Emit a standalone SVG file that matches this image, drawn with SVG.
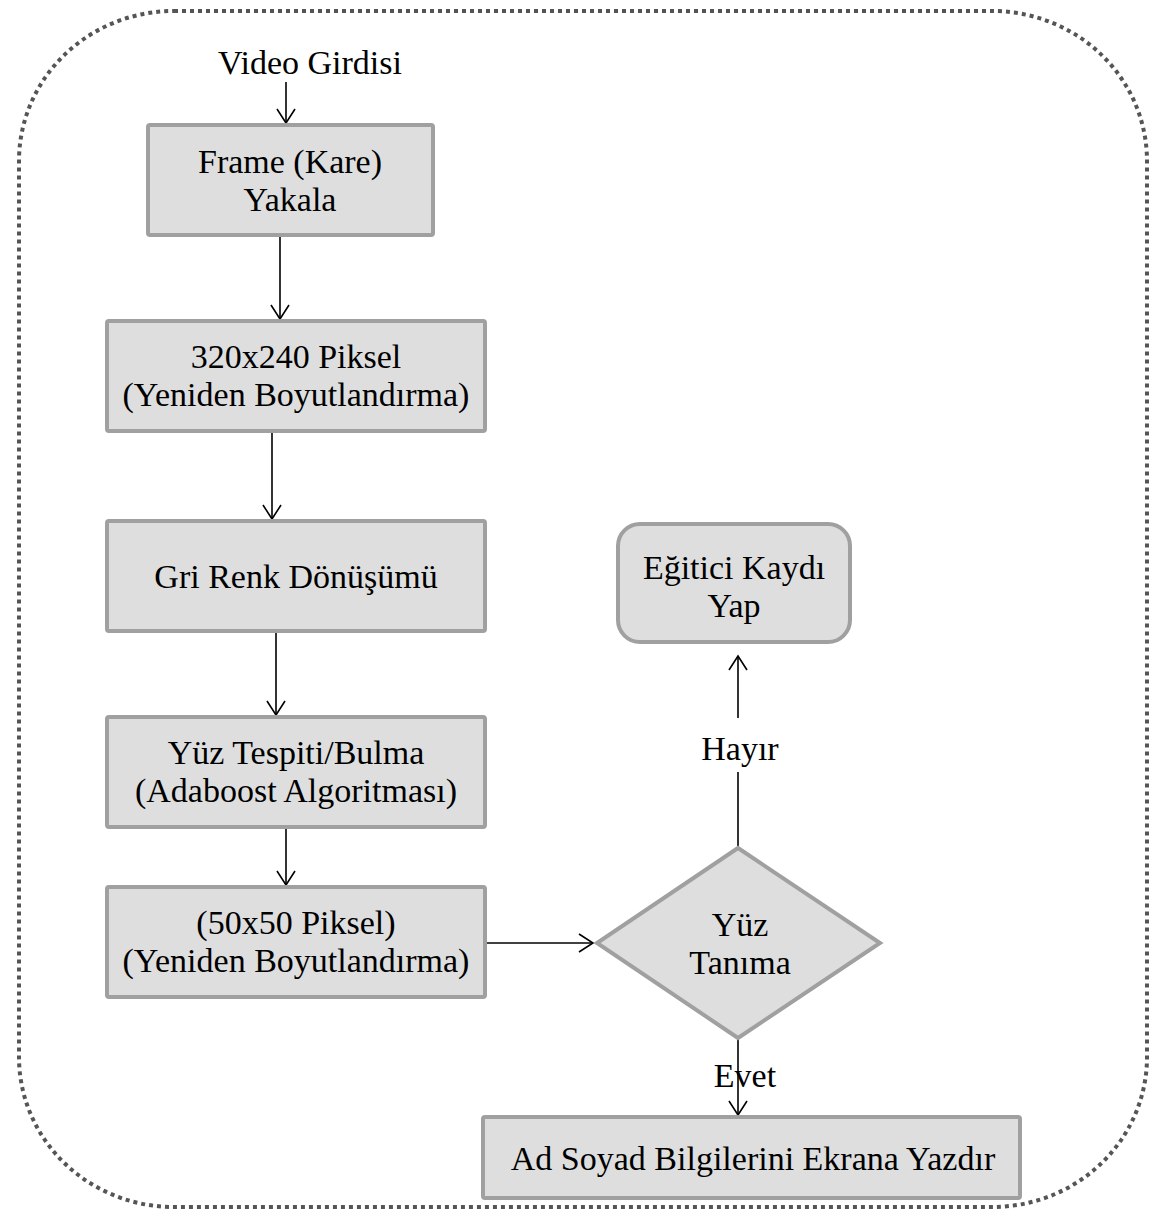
<svg xmlns="http://www.w3.org/2000/svg" width="1155" height="1218" viewBox="0 0 1155 1218">
<style>
.box{fill:#dedede;stroke:#a0a0a0;stroke-width:4}
.t{font-family:"Liberation Serif","Times New Roman",serif;font-size:34px;fill:#000;text-anchor:middle}
.c{stroke:#000;stroke-width:1.6;fill:none}
</style>
<defs>
<marker id="ah" markerWidth="20" markerHeight="20" refX="16" refY="10" orient="auto" markerUnits="userSpaceOnUse">
<path d="M2,1 L16,10 L2,19" fill="none" stroke="#000" stroke-width="1.6"/>
</marker>
</defs>
<rect x="19" y="11" width="1128" height="1196" rx="155" ry="150" fill="none" stroke="#555" stroke-width="4" stroke-dasharray="4 4"/>
<g id="connectors">
<line class="c" x1="286" y1="82" x2="286" y2="123" marker-end="url(#ah)"/>
<line class="c" x1="280" y1="235" x2="280" y2="319" marker-end="url(#ah)"/>
<line class="c" x1="272" y1="431" x2="272" y2="519" marker-end="url(#ah)"/>
<line class="c" x1="276" y1="631" x2="276" y2="715" marker-end="url(#ah)"/>
<line class="c" x1="286" y1="827" x2="286" y2="885" marker-end="url(#ah)"/>
<line class="c" x1="485" y1="943" x2="593" y2="943" marker-end="url(#ah)"/>
<line class="c" x1="738" y1="848" x2="738" y2="772"/>
<line class="c" x1="738" y1="718" x2="738" y2="656" marker-end="url(#ah)"/>
<line class="c" x1="738" y1="1038" x2="738" y2="1115" marker-end="url(#ah)"/>
</g>
<text class="t" x="310" y="74">Video Girdisi</text>
<text class="t" x="740" y="760">Hayır</text>
<text class="t" x="745" y="1087">Evet</text>
<g id="n1"><rect class="box" x="148" y="125" width="285" height="110" rx="2"/><text class="t" x="290" y="173">Frame (Kare)</text><text class="t" x="290" y="211">Yakala</text></g>
<g id="n2"><rect class="box" x="107" y="321" width="378" height="110" rx="2"/><text class="t" x="296" y="368">320x240 Piksel</text><text class="t" x="296" y="406">(Yeniden Boyutlandırma)</text></g>
<g id="n3"><rect class="box" x="107" y="521" width="378" height="110" rx="2"/><text class="t" x="296" y="588">Gri Renk Dönüşümü</text></g>
<g id="n4"><rect class="box" x="107" y="717" width="378" height="110" rx="2"/><text class="t" x="296" y="764">Yüz Tespiti/Bulma</text><text class="t" x="296" y="802">(Adaboost Algoritması)</text></g>
<g id="n5"><rect class="box" x="107" y="887" width="378" height="110" rx="2"/><text class="t" x="296" y="934">(50x50 Piksel)</text><text class="t" x="296" y="972">(Yeniden Boyutlandırma)</text></g>
<g id="n6"><path class="box" d="M738,848 L880,943 L738,1038 L597,943 Z"/><text class="t" x="740" y="936">Yüz</text><text class="t" x="740" y="974">Tanıma</text></g>
<g id="n7"><rect class="box" x="618" y="524" width="232" height="118" rx="22"/><text class="t" x="734" y="579">Eğitici Kaydı</text><text class="t" x="734" y="617">Yap</text></g>
<g id="n8"><rect class="box" x="483" y="1117" width="537" height="81" rx="2"/><text class="t" x="753" y="1170">Ad Soyad Bilgilerini Ekrana Yazdır</text></g>
</svg>
